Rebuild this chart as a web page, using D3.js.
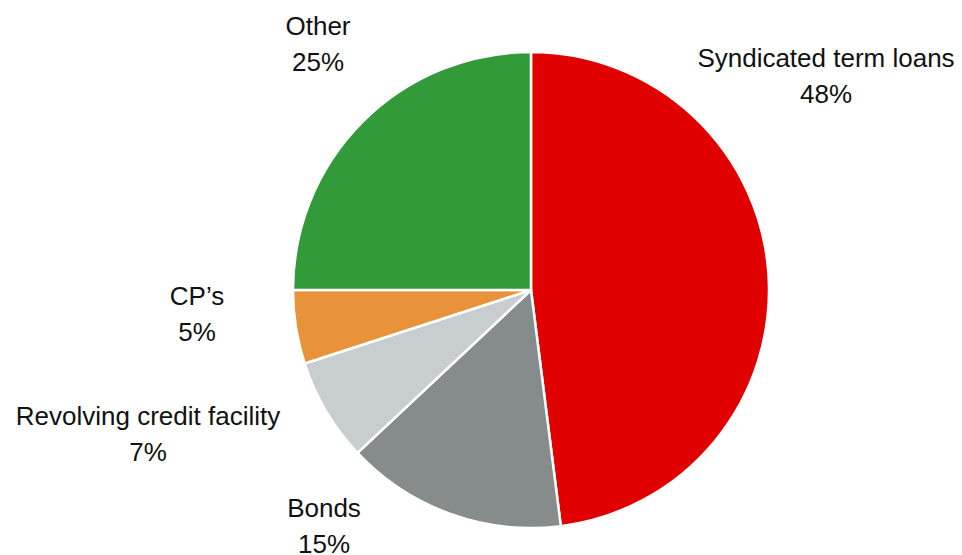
<!DOCTYPE html>
<html>
<head>
<meta charset="utf-8">
<script src="https://cdn.jsdelivr.net/npm/d3@7"></script>
<style>
  body { margin: 0; background: #fff; }
  text { font-family: "Liberation Sans", Arial, sans-serif; fill: #111; }
</style>
</head>
<body>
<div id="chart"></div>
<script>
// data
var categories = ["Syndicated term loans", "Bonds", "Revolving credit facility", "CP\u2019s", "Other"];
var shares = [48, 15, 7, 5, 25];
var colors = ["#e00000", "#868c8c", "#c8cecf", "#e8923a", "#339a3a"];

// label anchor points (first line baseline), layout only
var labelX = [826, 324, 148, 197, 318];
var labelY = [67, 517, 425, 305, 35];

var svgWidth = 962;
var svgHeight = 555;
var cx = 531, cy = 290, radius = 238;

var svg = d3.select("#chart")
  .append("svg").attr("width", svgWidth).attr("height", svgHeight);

var data = categories.map(function(c, i) {
  return { name: c, value: shares[i], color: colors[i], lx: labelX[i], ly: labelY[i] };
});

var pie = d3.pie().sort(null).value(d => d.value);
var arc = d3.arc().innerRadius(0).outerRadius(radius);

var pieGroup = svg.append("g")
  .attr("transform", `translate(${cx}, ${cy})`);

pieGroup.selectAll("path")
  .data(pie(data))
  .enter()
  .append("path")
  .attr("d", arc)
  .attr("fill", d => d.data.color)
  .attr("stroke", "#fff")
  .attr("stroke-width", 2.5)
  .attr("stroke-linejoin", "round");

var labels = svg.selectAll("text.lbl")
  .data(data)
  .enter()
  .append("text")
  .attr("class", "lbl")
  .attr("text-anchor", "middle")
  .attr("font-size", "26px");

labels.append("tspan")
  .attr("x", d => d.lx)
  .attr("y", d => d.ly)
  .text(d => d.name);

labels.append("tspan")
  .attr("x", d => d.lx)
  .attr("y", d => d.ly + 36)
  .text(d => d.value + "%");
</script>
</body>
</html>
